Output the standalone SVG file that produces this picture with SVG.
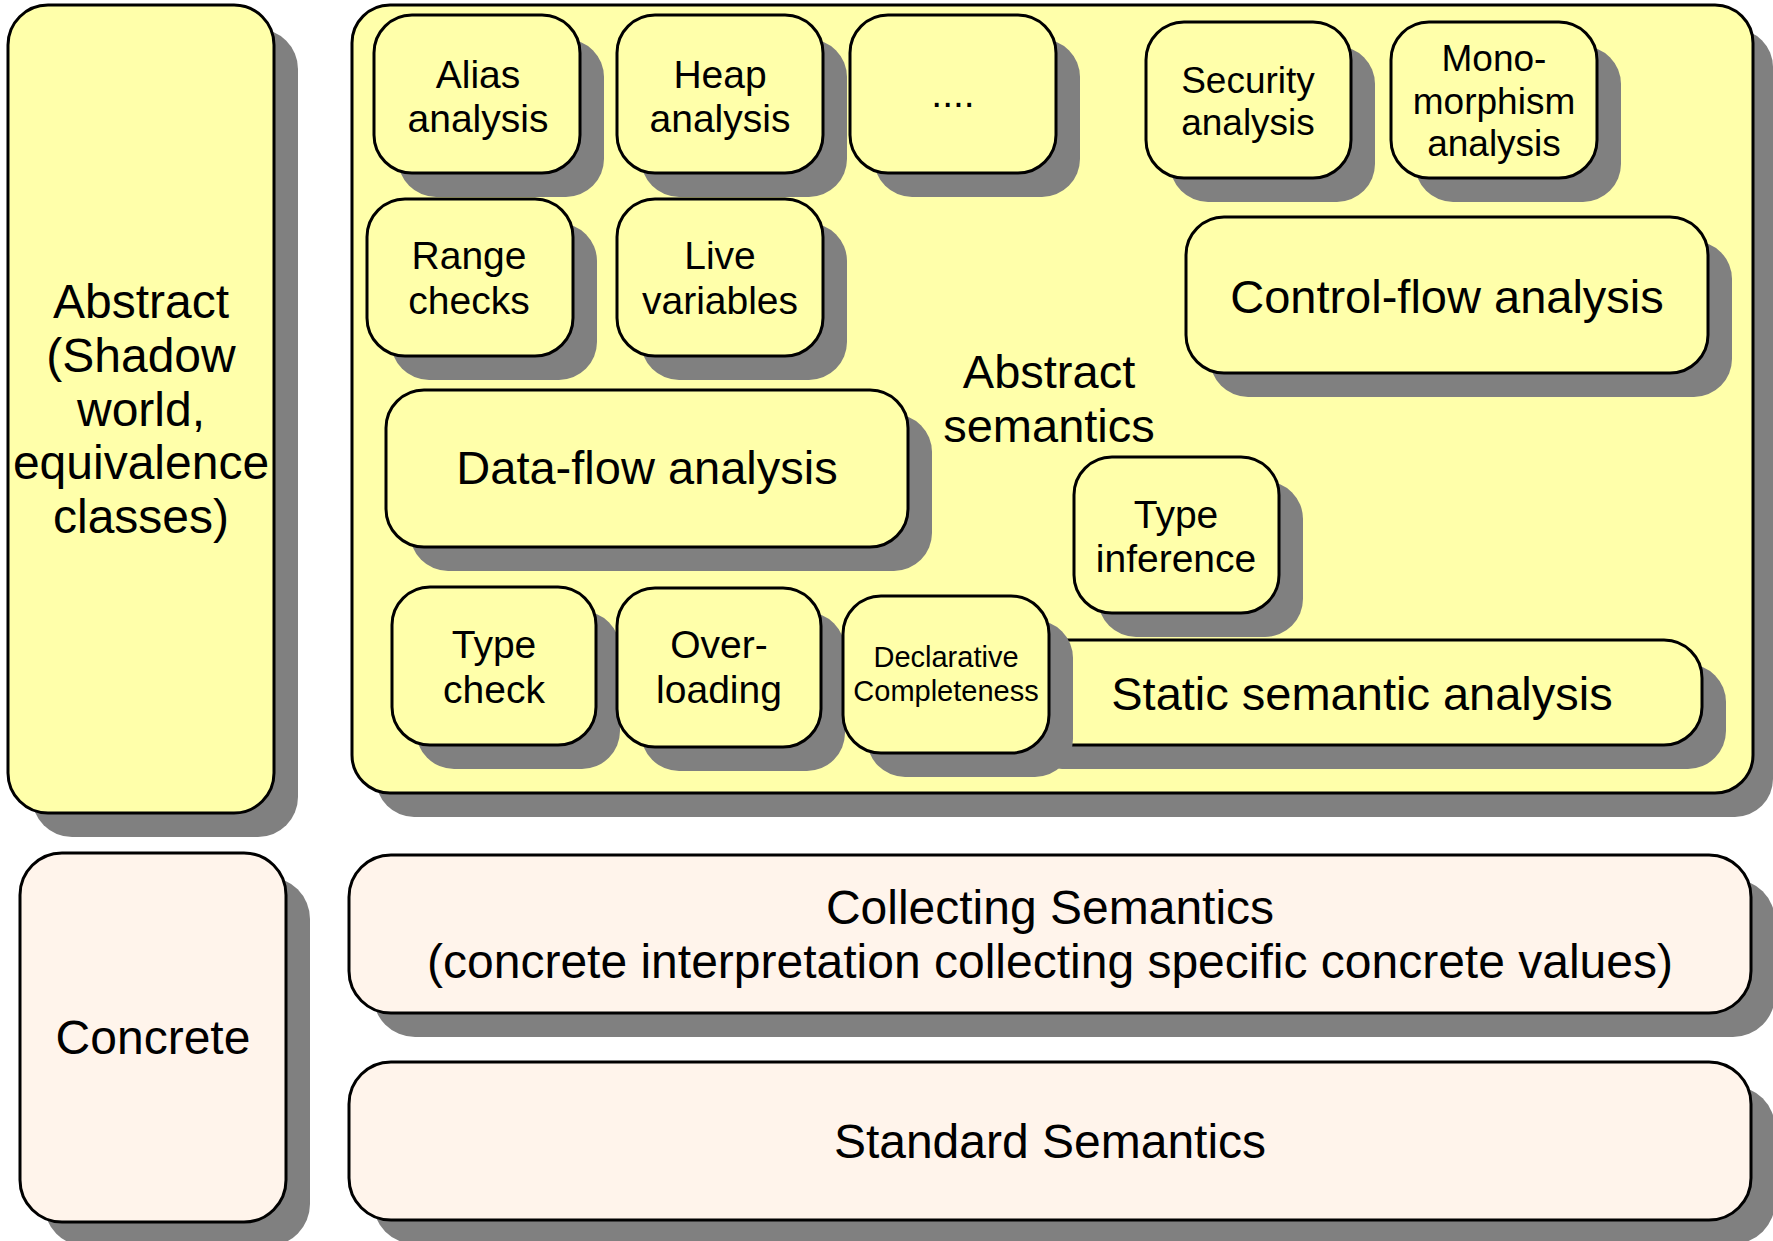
<svg xmlns="http://www.w3.org/2000/svg" width="1773" height="1241" viewBox="0 0 1773 1241">
<style>
.sh{fill:#808080}
.y{fill:#FFFFAA;stroke:#000;stroke-width:3}
.c{fill:#FFF4EB;stroke:#000;stroke-width:3}
text{font-family:"Liberation Sans",Arial,sans-serif;fill:#000;text-anchor:middle}
.f39{font-size:39px}
.f37{font-size:37px}
.f47{font-size:47px}
.f48{font-size:48px}
.f29{font-size:29px}
</style>
<rect width="1773" height="1241" fill="#fff"/>
<g id="abstract-side">
<rect class="sh" x="32" y="29" width="266" height="808" rx="40"/>
<rect class="y" x="8" y="5" width="266" height="808" rx="40"/>
<text class="f48"><tspan x="141" y="318">Abstract</tspan><tspan x="141" y="372">(Shadow</tspan><tspan x="141" y="426">world,</tspan><tspan x="141" y="479">equivalence</tspan><tspan x="141" y="533">classes)</tspan></text>
</g>
<g id="abstract-semantics">
<rect class="sh" x="376" y="29" width="1397" height="788" rx="38"/>
<rect class="y" x="352" y="5" width="1401" height="788" rx="38"/>
<text class="f47"><tspan x="1049" y="388">Abstract</tspan><tspan x="1049" y="442">semantics</tspan></text>
</g>
<g id="alias">
<rect class="sh" x="398" y="39" width="206" height="158" rx="38"/>
<rect class="y" x="374" y="15" width="206" height="158" rx="38"/>
<text class="f39"><tspan x="478" y="88">Alias</tspan><tspan x="478" y="132">analysis</tspan></text>
</g>
<g id="heap">
<rect class="sh" x="641" y="39" width="206" height="158" rx="38"/>
<rect class="y" x="617" y="15" width="206" height="158" rx="38"/>
<text class="f39"><tspan x="720" y="88">Heap</tspan><tspan x="720" y="132">analysis</tspan></text>
</g>
<g id="more">
<rect class="sh" x="874" y="39" width="206" height="158" rx="38"/>
<rect class="y" x="850" y="15" width="206" height="158" rx="38"/>
<text class="f39" x="953" y="107">....</text>
</g>
<g id="security">
<rect class="sh" x="1170" y="46" width="205" height="156" rx="38"/>
<rect class="y" x="1146" y="22" width="205" height="156" rx="38"/>
<text class="f37"><tspan x="1248" y="93">Security</tspan><tspan x="1248" y="135">analysis</tspan></text>
</g>
<g id="monomorphism">
<rect class="sh" x="1415" y="46" width="206" height="156" rx="38"/>
<rect class="y" x="1391" y="22" width="206" height="156" rx="38"/>
<text class="f37"><tspan x="1494" y="71">Mono-</tspan><tspan x="1494" y="114">morphism</tspan><tspan x="1494" y="156">analysis</tspan></text>
</g>
<g id="range">
<rect class="sh" x="391" y="223" width="206" height="157" rx="38"/>
<rect class="y" x="367" y="199" width="206" height="157" rx="38"/>
<text class="f39"><tspan x="469" y="269">Range</tspan><tspan x="469" y="314">checks</tspan></text>
</g>
<g id="live">
<rect class="sh" x="641" y="223" width="206" height="157" rx="38"/>
<rect class="y" x="617" y="199" width="206" height="157" rx="38"/>
<text class="f39"><tspan x="720" y="269">Live</tspan><tspan x="720" y="314">variables</tspan></text>
</g>
<g id="control-flow">
<rect class="sh" x="1210" y="241" width="522" height="156" rx="38"/>
<rect class="y" x="1186" y="217" width="522" height="156" rx="38"/>
<text class="f47" x="1447" y="313">Control-flow analysis</text>
</g>
<g id="data-flow">
<rect class="sh" x="410" y="414" width="522" height="157" rx="38"/>
<rect class="y" x="386" y="390" width="522" height="157" rx="38"/>
<text class="f47" x="647" y="484">Data-flow analysis</text>
</g>
<g id="static-semantic">
<rect class="sh" x="1024" y="664" width="702" height="105" rx="38"/>
<rect class="y" x="1000" y="640" width="702" height="105" rx="38"/>
<text class="f47" x="1362" y="710">Static semantic analysis</text>
</g>
<g id="type-inference">
<rect class="sh" x="1098" y="481" width="205" height="156" rx="38"/>
<rect class="y" x="1074" y="457" width="205" height="156" rx="38"/>
<text class="f39"><tspan x="1176" y="528">Type</tspan><tspan x="1176" y="572">inference</tspan></text>
</g>
<g id="type-check">
<rect class="sh" x="416" y="611" width="204" height="158" rx="38"/>
<rect class="y" x="392" y="587" width="204" height="158" rx="38"/>
<text class="f39"><tspan x="494" y="658">Type</tspan><tspan x="494" y="703">check</tspan></text>
</g>
<g id="overloading">
<rect class="sh" x="641" y="612" width="204" height="159" rx="38"/>
<rect class="y" x="617" y="588" width="204" height="159" rx="38"/>
<text class="f39"><tspan x="719" y="658">Over-</tspan><tspan x="719" y="703">loading</tspan></text>
</g>
<g id="declarative">
<rect class="sh" x="867" y="620" width="206" height="157" rx="38"/>
<rect class="y" x="843" y="596" width="206" height="157" rx="38"/>
<text class="f29"><tspan x="946" y="667">Declarative</tspan><tspan x="946" y="701">Completeness</tspan></text>
</g>
<g id="concrete">
<rect class="sh" x="44" y="877" width="266" height="369" rx="42"/>
<rect class="c" x="20" y="853" width="266" height="369" rx="42"/>
<text class="f48" x="153" y="1054">Concrete</text>
</g>
<g id="collecting">
<rect class="sh" x="373" y="879" width="1402" height="158" rx="42"/>
<rect class="c" x="349" y="855" width="1402" height="158" rx="42"/>
<text class="f48"><tspan x="1050" y="924">Collecting Semantics</tspan><tspan x="1050" y="978">(concrete interpretation collecting specific concrete values)</tspan></text>
</g>
<g id="standard">
<rect class="sh" x="373" y="1086" width="1402" height="158" rx="42"/>
<rect class="c" x="349" y="1062" width="1402" height="158" rx="42"/>
<text class="f48" x="1050" y="1158">Standard Semantics</text>
</g>
<g id="connectors"></g>
</svg>
